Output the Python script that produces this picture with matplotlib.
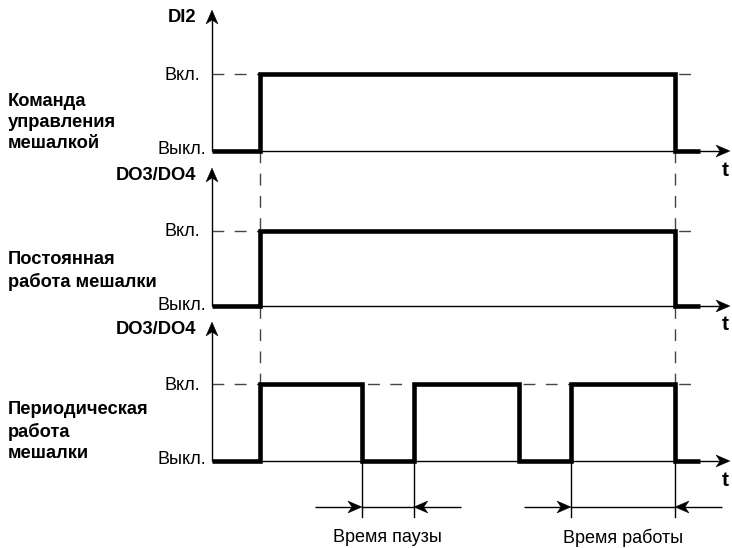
import numpy as np
import matplotlib
matplotlib.use("Agg")
import matplotlib.pyplot as plt
from matplotlib.patches import Polygon

plt.rcParams['font.family'] = ['Liberation Sans', 'DejaVu Sans']
plt.rcParams['lines.scale_dashes'] = False

# ---------------- data ----------------
signal_names = ['DI2', 'DO3/DO4', 'DO3/DO4']
panel_titles = [['Команда', 'управления', 'мешалкой'],
                ['Постоянная', 'работа мешалки'],
                ['Периодическая', 'работа', 'мешалки']]
level_labels = ['Выкл.', 'Вкл.']
# switching instants (time units), signal starts in "Выкл." state
edges_command = [0.925, 8.925]
edges_constant = [0.925, 8.925]
edges_periodic = [0.925, 2.89, 3.89, 5.92, 6.92, 8.925]
t_trace_end = 9.41
interval_labels = ['Время паузы', 'Время работы']
interval_pause = [2.89, 3.89]
interval_work = [6.92, 8.925]

# ---------------- layout (pixels) ----------------
W, H = 732, 548
U = 51.875          # px per time unit
X0 = 212            # px of time origin
def tx(px):
    return (px - X0) / U

base_y = [151, 306, 461]
high_y = [74, 231, 384]
top_y = [10, 168, 322]
axis_end = tx(730)

fig = plt.figure(figsize=(W / 100, H / 100), dpi=100)
ax = fig.add_axes([0, 0, 1, 1])
ax.set_xlim(tx(0), tx(W))
ax.set_ylim(H, 0)
ax.axis('off')

FS = 13
FSB = 13.2
THICK = 3.3
THIN = 1.0
DASH = (8.5, 7.5)

HL, HW, NOTCH = 14.0, 6.0, 4.0   # arrow head length, half width, notch (px)

def arrow(x1, y1, x2, y2):
    # direction in pixel space
    dxp = (x2 - x1) * U
    dyp = (y2 - y1)
    L = np.hypot(dxp, dyp)
    ux, uy = dxp / L, dyp / L
    px, py = -uy, ux
    def pt(along, side):
        # along: px back from tip, side: px perpendicular
        xp = -ux * along + px * side
        yp = -uy * along + py * side
        return (x2 + xp / U, y2 + yp)
    ax.plot([x1, pt(NOTCH + 1, 0)[0]], [y1, pt(NOTCH + 1, 0)[1]],
            color='black', lw=THIN, zorder=3, solid_capstyle='butt')
    head = Polygon([pt(0, 0), pt(HL, HW), pt(HL - NOTCH, 0), pt(HL, -HW)],
                   closed=True, facecolor='black', edgecolor='black',
                   lw=0.3, zorder=3)
    ax.add_patch(head)

def step_xy(edges, t_end):
    xs = [0.0]
    ys = [0]
    state = 0
    for e in edges:
        xs += [e, e]
        ys += [state, 1 - state]
        state = 1 - state
    xs.append(t_end)
    ys.append(state)
    return np.array(xs), np.array(ys)

all_edges = [edges_command, edges_constant, edges_periodic]

for i in range(3):
    b, h, tp = base_y[i], high_y[i], top_y[i]
    # axes
    arrow(0, b, 0, tp)
    arrow(0, b, axis_end, b)
    # dashed on-level
    ax.plot([0, t_trace_end], [h, h], color='#444444', lw=THIN,
            dashes=DASH, zorder=1)
    # signal
    xs, ys = step_xy(all_edges[i], t_trace_end)
    ax.plot(xs, b + ys * (h - b), color='black', lw=THICK,
            solid_joinstyle='miter', solid_capstyle='butt', zorder=4)
    # texts
    ax.text(tx(200), h + 1, level_labels[1], fontsize=FS, ha='right', va='center')
    ax.text(tx(206), b - 1, level_labels[0], fontsize=FS, ha='right', va='center')
    ax.text(tx(196), tp + 8, signal_names[i], fontsize=FSB, fontweight='bold',
            ha='right', va='center')
    ax.text(tx(725), b + 19, 't', fontsize=FSB + 2, fontweight='bold',
            ha='center', va='center')

# left titles
title_first_y = [101, 260, 410]
for i in range(3):
    for k, line in enumerate(panel_titles[i]):
        ax.text(tx(8), title_first_y[i] + 21.5 * k, line, fontsize=FSB,
                fontweight='bold', ha='left', va='center')

# vertical dashed guide lines at command edges
for e in edges_command:
    ax.plot([e, e], [base_y[0], high_y[2]], color='#444444', lw=THIN,
            dashes=DASH, zorder=1)

# interval measurement
for (a, b2), lab in zip([interval_pause, interval_work], interval_labels):
    for e in (a, b2):
        ax.plot([e, e], [base_y[2], 517], color='black', lw=THIN, zorder=2)
    ax.plot([a, b2], [507, 507], color='black', lw=THIN, zorder=2)
    arrow(a - tx(259), 507, a, 507)
    arrow(b2 + tx(259), 507, b2, 507)
    ax.text((a + b2) / 2, 538, lab, fontsize=FS, ha='center', va='center')

fig.savefig('out.png', dpi=100)
